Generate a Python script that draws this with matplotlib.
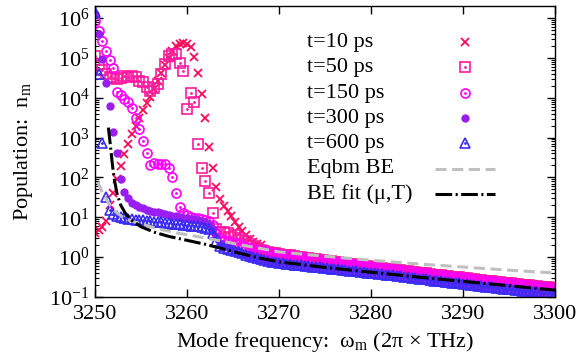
import numpy as np
import matplotlib
matplotlib.use('Agg')
import matplotlib.pyplot as plt
from matplotlib.ticker import LogLocator, NullFormatter, FixedLocator

plt.rcParams['font.family'] = ['Liberation Serif', 'DejaVu Serif']
plt.rcParams['mathtext.fontset'] = 'custom'
plt.rcParams['mathtext.rm'] = 'Liberation Serif'
plt.rcParams['mathtext.it'] = 'Liberation Serif:italic'
plt.rcParams['lines.scale_dashes'] = False

# mode frequencies (2pi x THz), evenly spaced modes
freq = np.linspace(3250, 3300, 126)

# log10 populations, 3250.0 .. 3268.0 (step 0.4)
t10_head = [0.60, 0.68, 0.76, 0.90, 1.30, 1.60, 1.95, 2.28, 2.58, 2.85,
            3.10, 3.30, 3.50, 3.68, 3.86, 4.03, 4.22, 4.42, 4.62, 4.82,
            5.00, 5.18, 5.30, 5.36, 5.38, 5.35, 5.28, 5.02, 4.63, 4.10,
            3.50, 2.77, 2.24, 1.75, 1.45, 1.28, 1.15, 1.02, 0.88, 0.76,
            0.66, 0.55, 0.45, 0.38, 0.32, 0.30]
t50_head = [5.04, 4.85, 4.70, 4.60, 4.52, 4.50, 4.48, 4.50, 4.55, 4.52,
            4.55, 4.52, 4.42, 4.40, 4.28, 4.18, 4.25, 4.35, 4.60, 4.85,
            5.05, 5.10, 5.10, 4.88, 4.66, 3.72, 4.12, 3.90, 2.85, 2.24,
            1.90, 1.60, 1.10, 0.70, 0.62, 0.63, 0.60, 0.50, 0.55, 0.48,
            0.44, 0.40, 0.32, 0.28, 0.22, 0.18]
t150_head = [5.92, 5.67, 5.42, 5.18, 4.95, 4.74, 4.15, 4.06, 3.98, 3.88,
             3.75, 3.48, 3.22, 2.92, 2.62, 2.30, 2.36, 2.34, 2.33, 2.33,
             2.24, 2.00, 1.62, 1.25, 1.10, 1.05, 1.00, 0.99, 0.98, 0.96,
             0.94, 0.90, 0.80, 0.60, 0.48, 0.44, 0.41, 0.38, 0.35, 0.32,
             0.29, 0.26, 0.23, 0.20, 0.18, 0.16]
t300_head = [6.10, 5.60, 4.96, 4.38, 3.78, 3.15, 2.60, 1.96, 1.64, 1.49,
             1.36, 1.30, 1.26, 1.22, 1.19, 1.16, 1.14, 1.12, 1.10, 1.08,
             1.06, 1.04, 1.02, 1.01, 0.99, 0.98, 0.96, 0.95, 0.93, 0.91,
             0.88, 0.83, 0.70, 0.50, 0.35, 0.30, 0.26, 0.22, 0.18, 0.14,
             0.10, 0.06, 0.03, 0.00, -0.03, -0.05]
t600_head = [6.15, 4.60, 2.87, 1.50, 1.18, 1.08, 1.03, 1.00, 0.98, 0.96,
             0.95, 0.94, 0.93, 0.92, 0.91, 0.90, 0.89, 0.88, 0.87, 0.86,
             0.85, 0.84, 0.83, 0.82, 0.81, 0.80, 0.79, 0.78, 0.77, 0.76,
             0.74, 0.70, 0.60, 0.40, 0.28, 0.24, 0.21, 0.18, 0.15, 0.12,
             0.09, 0.06, 0.03, 0.00, -0.03, -0.06]

# log10 populations, 3268.4 .. 3300.0, upper (early times) and lower (late times) edge of the band
tail_hi = [0.15, 0.13, 0.11, 0.09, 0.08, 0.06, 0.05, 0.04, 0.02, 0.01,
           0.00, -0.02, -0.03, -0.04, -0.06, -0.07, -0.08, -0.09, -0.11, -0.12,
           -0.13, -0.14, -0.16, -0.17, -0.18, -0.19, -0.20, -0.22, -0.23, -0.24,
           -0.25, -0.27, -0.28, -0.29, -0.30, -0.31, -0.32, -0.33, -0.35, -0.36,
           -0.37, -0.38, -0.39, -0.40, -0.41, -0.42, -0.44, -0.45, -0.46, -0.47,
           -0.48, -0.49, -0.50, -0.51, -0.52, -0.53, -0.55, -0.56, -0.57, -0.58,
           -0.59, -0.60, -0.61, -0.62, -0.63, -0.64, -0.65, -0.66, -0.67, -0.68,
           -0.69, -0.70, -0.71, -0.72, -0.73, -0.74, -0.75, -0.76, -0.77, -0.78]
tail_lo = [-0.08, -0.10, -0.12, -0.13, -0.15, -0.16, -0.17, -0.18, -0.19, -0.20,
           -0.21, -0.22, -0.23, -0.24, -0.25, -0.26, -0.27, -0.28, -0.29, -0.30,
           -0.31, -0.32, -0.33, -0.34, -0.35, -0.36, -0.37, -0.38, -0.39, -0.40,
           -0.41, -0.42, -0.43, -0.44, -0.45, -0.46, -0.47, -0.48, -0.50, -0.51,
           -0.52, -0.53, -0.54, -0.55, -0.56, -0.57, -0.59, -0.60, -0.61, -0.62,
           -0.63, -0.64, -0.65, -0.66, -0.67, -0.68, -0.70, -0.71, -0.72, -0.73,
           -0.74, -0.75, -0.76, -0.77, -0.78, -0.79, -0.80, -0.81, -0.82, -0.83,
           -0.84, -0.85, -0.86, -0.87, -0.88, -0.89, -0.90, -0.91, -0.92, -0.93]

# equilibrium Bose-Einstein curve
eqbm_f = [3250.3, 3250.8, 3251.3, 3252.0, 3253.0, 3254.0, 3255.5, 3257.0, 3259.0,
          3262.0, 3266.0, 3270.0, 3275.0, 3280.0, 3285.0, 3290.0, 3295.0, 3300.0]
eqbm_log = [1.89, 1.62, 1.42, 1.18, 1.00, 0.90, 0.80, 0.70, 0.60,
            0.48, 0.30, 0.13, 0.02, -0.08, -0.17, -0.25, -0.33, -0.40]

# BE fit with chemical potential and temperature
fit_f = [3251.45, 3251.6, 3251.75, 3251.9, 3252.1, 3252.4, 3252.8, 3253.3, 3254.0,
         3255.0, 3256.5, 3258.0, 3260.0, 3262.0, 3264.0, 3266.0, 3268.0, 3270.0,
         3275.0, 3280.0, 3285.0, 3290.0, 3295.0, 3300.0]
fit_log = [3.25, 2.95, 2.62, 2.30, 1.95, 1.58, 1.30, 1.10, 0.92,
           0.76, 0.62, 0.52, 0.42, 0.32, 0.20, 0.08, -0.03, -0.12,
           -0.26, -0.38, -0.50, -0.61, -0.72, -0.83]

labels = ['t=10 ps', 't=50 ps', 't=150 ps', 't=300 ps', 't=600 ps']
colors = ['#ff0a5a', '#ff1aa0', '#ff00ff', '#9a1ef0', '#3a2cf5']

n10 = 10 ** np.array(t10_head + tail_hi)
n50 = 10 ** np.array(t50_head + tail_hi)
n150 = 10 ** np.array(t150_head + tail_hi)
n300 = 10 ** np.array(t300_head + tail_lo)
n600 = 10 ** np.array(t600_head + tail_lo)

# marker styles: (marker, size, filled, centre dot)
styles = [('x', 6, True, False), ('s', 6.5, False, True), ('o', 6.5, False, True),
          ('o', 6, True, False), ('^', 6.5, False, True)]

fig = plt.figure(figsize=(5.83, 3.56), dpi=100)
ax = fig.add_axes([0.163, 0.166, 0.789, 0.817])


def draw_points(x, y, style, color, **kw):
    mk, ms, filled, dot = style
    if mk == 'x':
        ax.plot(x, y, ls='none', marker='x', ms=ms, mew=1.3, color=color, **kw)
    elif filled:
        ax.plot(x, y, ls='none', marker=mk, ms=ms, mew=0, color=color, **kw)
    else:
        ax.plot(x, y, ls='none', marker=mk, ms=ms, mew=1.2, mfc='none', color=color, **kw)
    if dot:
        ax.plot(x, y, ls='none', marker='.', ms=2, color=color, **kw)


for n, st, c in zip([n10, n50, n150, n300, n600], styles, colors):
    draw_points(freq, n, st, c)

ax.plot(eqbm_f, 10 ** np.array(eqbm_log), color='#c0c0c0', lw=2.2, dashes=(8, 4))
ax.plot(fit_f, 10 ** np.array(fit_log), color='black', lw=2.2, dashes=(12, 2.5, 1.5, 2.5))

ax.set_yscale('log')
ax.set_xlim(3250, 3300)
ax.set_ylim(0.1, 2e6)
ax.xaxis.set_major_locator(FixedLocator([3250, 3260, 3270, 3280, 3290, 3300]))
ax.yaxis.set_major_locator(LogLocator(base=10, numticks=20))
ax.yaxis.set_minor_locator(LogLocator(base=10, subs=np.arange(2, 10), numticks=20))
ax.yaxis.set_minor_formatter(NullFormatter())
ax.tick_params(which='both', direction='in', top=True, right=True, labelsize=16)
ax.tick_params(axis='x', pad=6)
ax.tick_params(axis='y', pad=4)
ax.tick_params(which='major', length=6, width=1)
ax.tick_params(which='minor', length=3, width=0.8)
for s in ax.spines.values():
    s.set_linewidth(1)

ax.set_xlabel('Mode frequency:  ω$_{\\mathrm{m}}$ (2π × THz)', fontsize=16, labelpad=4)
ax.set_ylabel('Population:  n$_{\\mathrm{m}}$', fontsize=16, labelpad=10)

# legend drawn by hand: text left-aligned, key on the right
names = labels + ['Eqbm BE', 'BE fit (μ,T)']
row_y = [0.876, 0.790, 0.701, 0.615, 0.529, 0.440, 0.354]
x_text, x_key, x_l0, x_l1 = 0.461, 0.804, 0.739, 0.870
for i, name in enumerate(names):
    ax.text(x_text, row_y[i], name, transform=ax.transAxes, fontsize=16, va='center', ha='left')
for i, (st, c) in enumerate(zip(styles, colors)):
    draw_points([x_key], [row_y[i]], st, c, transform=ax.transAxes, clip_on=False)
ax.plot([x_l0, x_l1], [row_y[5], row_y[5]], transform=ax.transAxes, color='#c0c0c0',
        lw=2.2, dashes=(8, 4))
ax.plot([x_l0, x_l1], [row_y[6], row_y[6]], transform=ax.transAxes, color='black',
        lw=2.2, dashes=(12, 2.5, 1.5, 2.5))

fig.savefig('out.png', dpi=100)
